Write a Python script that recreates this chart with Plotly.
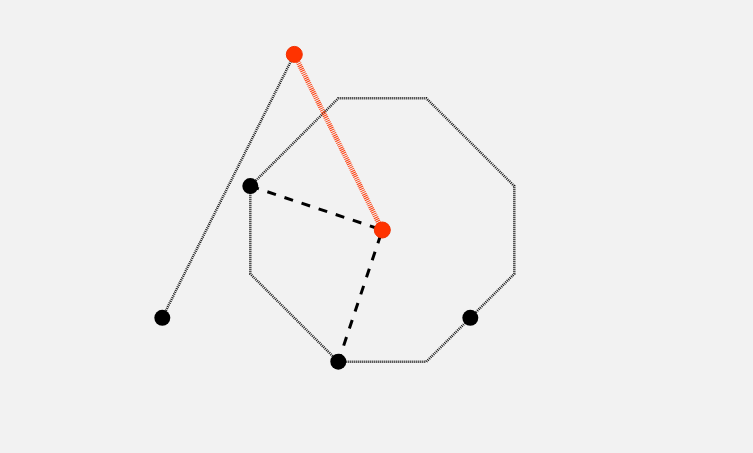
import plotly.graph_objects as go

# octagon on a 3x3 grid (closed path)
octagon_x = [1, 2, 3, 3, 2, 1, 0, 0, 1]
octagon_y = [0, 0, 1, 2, 3, 3, 2, 1, 0]

# thin grey segment from the far-left point up to the top point
left_line_x = [-1, 0.5]
left_line_y = [0.5, 3.5]

# orange segment: top point to centre
orange_x = [0.5, 1.5]
orange_y = [3.5, 1.5]

# dashed radii from centre
dash_x = [0, 1.5, 1]
dash_y = [2, 1.5, 0]

# points
black_pts_x = [-1, 0, 1, 2.5]
black_pts_y = [0.5, 2, 0, 0.5]
orange_pts_x = [0.5, 1.5]
orange_pts_y = [3.5, 1.5]

bg = "#f2f2f2"

fig = go.Figure()

fig.add_trace(go.Scatter(
    x=octagon_x, y=octagon_y, mode="lines",
    line=dict(color="#1a1a1a", width=2.5, dash="1px,1px"),
    hoverinfo="skip"
))
fig.add_trace(go.Scatter(
    x=left_line_x, y=left_line_y, mode="lines",
    line=dict(color="#1a1a1a", width=2.5, dash="1px,1px"),
    hoverinfo="skip"
))
fig.add_trace(go.Scatter(
    x=orange_x, y=orange_y, mode="lines",
    line=dict(color="#ff4010", width=5, dash="1px,1px"),
    hoverinfo="skip"
))
fig.add_trace(go.Scatter(
    x=dash_x, y=dash_y, mode="lines",
    line=dict(color="black", width=3, dash="dash"),
    hoverinfo="skip"
))
fig.add_trace(go.Scatter(
    x=black_pts_x, y=black_pts_y, mode="markers",
    marker=dict(color="black", size=16)
))
fig.add_trace(go.Scatter(
    x=orange_pts_x, y=orange_pts_y, mode="markers",
    marker=dict(color="#ff3300", size=16, line=dict(color="#f03000", width=1))
))

fig.update_layout(
    width=753, height=453,
    margin=dict(l=0, r=0, t=0, b=0),
    paper_bgcolor=bg, plot_bgcolor=bg,
    showlegend=False,
    xaxis=dict(range=[-250.3 / 88, 502.7 / 88], visible=False, fixedrange=True),
    yaxis=dict(range=[-91.3 / 87.8, 361.7 / 87.8], visible=False, fixedrange=True),
)

fig.write_html(
    "out.html",
    config={"displayModeBar": False},
    post_script="document.body.style.margin='0';document.body.style.background='%s';" % bg,
)
